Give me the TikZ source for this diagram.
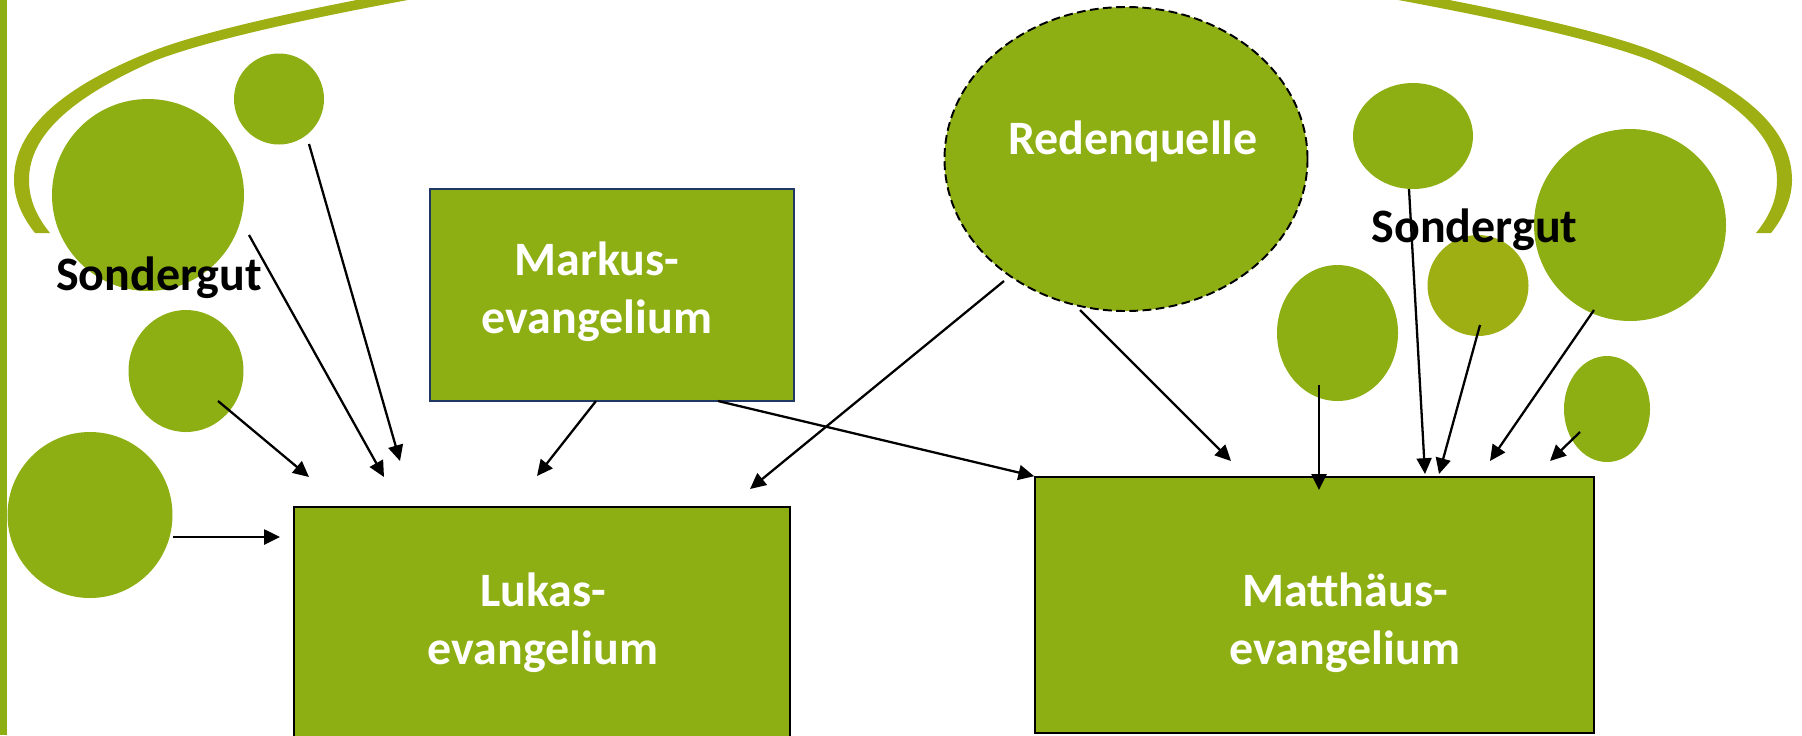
\documentclass[tikz,border=0pt]{standalone}
\usepackage{fontspec}
\setmainfont{Carlito}
\usetikzlibrary{arrows.meta,shapes.geometric}

\definecolor{leaf}{RGB}{141,175,19}
\definecolor{olive}{RGB}{158,175,20}
\definecolor{navyline}{RGB}{31,56,100}

\tikzset{
  blob/.style={ellipse, fill=leaf, draw=none, inner sep=0pt},
  gospel/.style={rectangle, fill=leaf, draw=black, line width=0.9pt, inner sep=0pt},
  whitetext/.style={text=white, font=\fontsize{27.3}{33}\selectfont\bfseries,
    align=center, inner sep=0pt, anchor=base},
  blacktext/.style={text=black, font=\fontsize{27.3}{33}\selectfont\bfseries,
    inner sep=0pt, anchor=base},
  flow/.style={-{Triangle[length=9pt,width=8.5pt]}, line width=1.3pt, draw=black},
}

% one crescent-shaped swoosh at the top left (units: 0.2mm, y downwards)
\newcommand\swooshband{%
  \fill[olive] (35,233) .. controls (22,217) and (14,198) .. (14,180)
    .. controls (14,130) and (60,88) .. (150,52)
    .. controls (200,32) and (300,10) .. (420,-12)
    -- (424,-3) .. controls (304,19) and (205,41) .. (154,61)
    .. controls (70,98) and (29,136) .. (29,180)
    .. controls (29,200) and (37,217) .. (50,233) -- cycle;}

\begin{document}
\begin{tikzpicture}[x=0.2mm,y=-0.2mm]
\useasboundingbox (0,0) rectangle (1802,735);
\clip (0,0) rectangle (1802,735);

% left margin bar
\fill[leaf] (0,0) rectangle (7,735);

% swooshes left and right
\swooshband
\begin{scope}[shift={(1806,0)}, xscale=-1]
  \swooshband
\end{scope}

% sources on the left (Sondergut of Luke)
\node[blob, minimum width=38.4mm, minimum height=38.4mm] (c1) at (148,195) {};
\node[blob, minimum width=18mm, minimum height=18.2mm] (c2) at (279,99) {};
\node[blob, minimum width=23mm, minimum height=24.4mm] (c3) at (186,371) {};
\node[blob, minimum width=33mm, minimum height=33.2mm] (c4) at (90,515) {};

% sayings source
\node[blob, draw=black, line width=1.1pt, dash pattern=on 5pt off 2.5pt,
      minimum width=72.6mm, minimum height=60.8mm] (rq) at (1126,159) {};

% sources on the right (Sondergut of Matthew)
\node[blob, minimum width=24mm, minimum height=21.2mm] (r1) at (1413,136) {};
\node[blob, minimum width=38.4mm, minimum height=38.4mm] (r2) at (1630,225) {};
\node[blob, fill=olive, minimum width=20.2mm, minimum height=20.2mm] (r3) at (1478,285.5) {};
\node[blob, minimum width=24.2mm, minimum height=27.2mm] (r4) at (1337.5,333) {};
\node[blob, minimum width=17.2mm, minimum height=21.2mm] (r5) at (1607,409) {};

% gospels
\node[gospel, draw=navyline, minimum width=72.8mm, minimum height=42.4mm] (mk) at (612,295) {};
\node[gospel, minimum width=99.2mm, minimum height=50.6mm] (lk) at (542,633.5) {};
\node[gospel, minimum width=111.8mm, minimum height=51.2mm] (mt) at (1314.5,605) {};

% labels (base anchor sits on the last line)
\node[whitetext] (mktext) at (597,333) {Markus-\\evangelium};
\node[whitetext] (lktext) at (543,664) {Lukas-\\evangelium};
\node[whitetext] (mttext) at (1345,664) {Matthäus-\\evangelium};
\node[whitetext] (rqtext) at (1133,154) {Redenquelle};
\node[blacktext] (sgl) at (159,290) {Sondergut};
\node[blacktext] (sgr) at (1474.5,242) {Sondergut};

% connector ends
\coordinate (c2out) at (309,144);   \coordinate (lkin1) at (400,461);
\coordinate (c1out) at (249,235);   \coordinate (lkin2) at (384,477);
\coordinate (c3out) at (218,401);   \coordinate (lkin3) at (309,477);
\coordinate (c4out) at (173,537);   \coordinate (lkin4) at (280,537);
\coordinate (mkout1) at (596,401);  \coordinate (lkin5) at (537,476);
\coordinate (mkout2) at (718,401);
\coordinate (rqout1) at (1004,281); \coordinate (lkin6) at (750,489);
\coordinate (rqout2) at (1080,310); \coordinate (mtin1) at (1231,461);
\coordinate (r4out) at (1319,385);  \coordinate (mtin2) at (1319,490);
\coordinate (r1out) at (1409,189);  \coordinate (mtin3) at (1425,474);
\coordinate (r3out) at (1480,325);  \coordinate (mtin4) at (1439,474);
\coordinate (r2out) at (1594,310);  \coordinate (mtin5) at (1490,461);
\coordinate (r5out) at (1580,432);  \coordinate (mtin6) at (1550,461);

% influences on Luke
\draw[flow] (c2out) -- (lkin1);
\draw[flow] (c1out) -- (lkin2);
\draw[flow] (c3out) -- (lkin3);
\draw[flow] (c4out) -- (lkin4);
\draw[flow] (mkout1) -- (lkin5);
\draw[flow] (rqout1) -- (lkin6);

% influences on Matthew
\draw[flow] (mkout2) -- (mt.north west);
\draw[flow] (rqout2) -- (mtin1);
\draw[flow] (r4out) -- (mtin2);
\draw[flow] (r1out) -- (mtin3);
\draw[flow] (r3out) -- (mtin4);
\draw[flow] (r2out) -- (mtin5);
\draw[flow] (r5out) -- (mtin6);
\end{tikzpicture}
\end{document}
